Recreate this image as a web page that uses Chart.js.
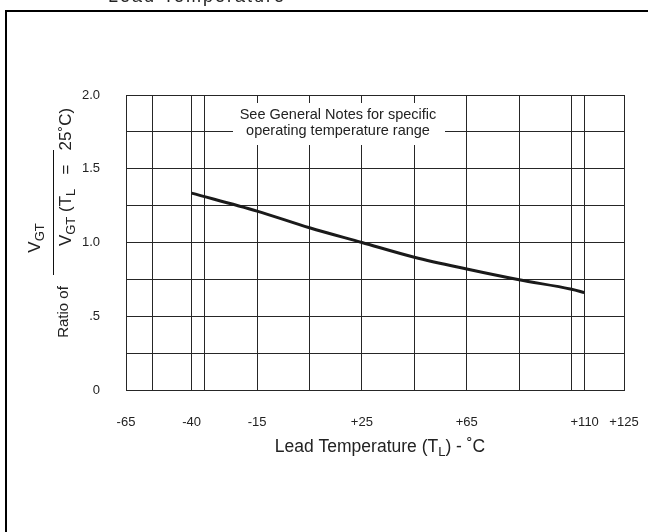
<!DOCTYPE html>
<html>
<head>
<meta charset="utf-8">
<script src="https://cdn.jsdelivr.net/npm/chart.js@4/dist/chart.umd.min.js"></script>
<style>
  html, body { margin: 0; padding: 0; background: #fff; }
  #chart { display: block; }
</style>
</head>
<body>
<canvas id="chart" width="648" height="532"></canvas>
<script>
// lead temperature (deg C) and V_GT ratio
const curveTemps = [-40, -15, 5, 25, 45, 65, 85, 105, 110];
const vgtRatio = [1.335, 1.213, 1.10, 1.0, 0.90, 0.82, 0.747, 0.683, 0.66];

// vertical grid lines and labelled temperatures
const gridTemps = [-65, -55, -40, -35, -15, 5, 25, 45, 65, 85, 105, 110, 125];
const tickTemps = [-65, -40, -15, 25, 65, 110, 125];
const tickLabels = ['-65', '-40', '-15', '+25', '+65', '+110', '+125'];

// horizontal grid lines and labelled ratios
const gridRatios = [0, 0.25, 0.5, 0.75, 1.0, 1.25, 1.5, 1.75, 2.0];
const ratioTicks = [0, 0.5, 1.0, 1.5, 2.0];
const ratioLabels = ['0', '.5', '1.0', '1.5', '2.0'];

const FONT = '"Liberation Sans", Arial, Helvetica, sans-serif';
const INK = '#222';
const GRID = '#262626';

// draws a run of text pieces (with subscripts) centred on 0,0 of the current transform
function drawRuns(ctx, runs, mainSize) {
  let total = 0;
  runs.forEach(r => {
    ctx.font = r.size + 'px ' + FONT;
    r.w = ctx.measureText(r.t).width;
    total += r.w;
  });
  let x = -total / 2;
  const base = mainSize * 0.716 / 2;
  runs.forEach(r => {
    ctx.font = r.size + 'px ' + FONT;
    ctx.fillText(r.t, x, base + (r.dy || 0));
    x += r.w;
  });
}

const decor = {
  id: 'decor',
  afterDraw(chart) {
    const ctx = chart.ctx;
    ctx.save();

    // outer frame
    ctx.fillStyle = '#000';
    ctx.fillRect(5, 10, 2, 522);
    ctx.fillRect(5, 10, 643, 2);

    // heading cut off at the top
    ctx.fillStyle = INK;
    ctx.font = '18px ' + FONT;
    ctx.textAlign = 'left';
    ctx.textBaseline = 'alphabetic';
    if ('letterSpacing' in ctx) ctx.letterSpacing = '2px';
    ctx.fillText('Lead Temperature', 108, 2);
    if ('letterSpacing' in ctx) ctx.letterSpacing = '0px';

    // note box
    ctx.fillStyle = '#fff';
    ctx.fillRect(233, 103, 212, 42);
    ctx.fillStyle = INK;
    ctx.font = '14.5px ' + FONT;
    ctx.textAlign = 'center';
    ctx.textBaseline = 'middle';
    ctx.fillText('See General Notes for specific', 338, 115);
    ctx.fillText('operating temperature range', 338, 131);

    // y axis title
    ctx.textAlign = 'left';
    ctx.textBaseline = 'alphabetic';
    ctx.save();
    ctx.translate(63, 312);
    ctx.rotate(-Math.PI / 2);
    drawRuns(ctx, [{ t: 'Ratio of', size: 15 }], 15);
    ctx.restore();

    ctx.save();
    ctx.translate(34, 238);
    ctx.rotate(-Math.PI / 2);
    drawRuns(ctx, [{ t: 'V', size: 17 }, { t: 'GT', size: 13, dy: 4 }], 17);
    ctx.restore();

    ctx.save();
    ctx.translate(65, 177);
    ctx.rotate(-Math.PI / 2);
    drawRuns(ctx, [
      { t: 'V', size: 17 }, { t: 'GT', size: 13, dy: 4 },
      { t: ' (T', size: 17 }, { t: 'L', size: 13, dy: 4 },
      { t: '   =   25\u02DAC)', size: 17 }
    ], 17);
    ctx.restore();

    ctx.strokeStyle = '#111';
    ctx.lineWidth = 1;
    ctx.beginPath();
    ctx.moveTo(53.5, 150);
    ctx.lineTo(53.5, 275);
    ctx.stroke();

    // x axis title
    ctx.save();
    ctx.translate(380, 446);
    drawRuns(ctx, [
      { t: 'Lead Temperature (T', size: 17.5 }, { t: 'L', size: 13, dy: 4 },
      { t: ') - \u02DAC', size: 17.5 }
    ], 17.5);
    ctx.restore();

    ctx.restore();
  }
};

new Chart(document.getElementById('chart'), {
  type: 'line',
  data: {
    datasets: [{
      data: curveTemps.map((t, i) => ({ x: t, y: vgtRatio[i] })),
      borderColor: '#1a1a1a',
      borderWidth: 3,
      pointRadius: 0,
      cubicInterpolationMode: 'monotone',
      fill: false
    }]
  },
  options: {
    responsive: false,
    animation: false,
    devicePixelRatio: 1,
    layout: { padding: { top: 95, right: 24, left: 0, bottom: 0 } },
    plugins: { legend: { display: false }, tooltip: { enabled: false } },
    scales: {
      x: {
        type: 'linear',
        min: -65,
        max: 125,
        afterBuildTicks: s => { s.ticks = gridTemps.map(v => ({ value: v })); },
        afterFit: s => { s.height = 142; s.paddingLeft = 0; s.paddingRight = 0; },
        grid: { color: GRID, lineWidth: 1, drawTicks: false },
        border: { color: GRID, width: 1 },
        ticks: {
          padding: 25,
          autoSkip: false,
          maxRotation: 0,
          color: INK,
          font: { family: FONT, size: 13 },
          callback: v => { const i = tickTemps.indexOf(v); return i >= 0 ? tickLabels[i] : ''; }
        }
      },
      y: {
        min: 0,
        max: 2,
        afterBuildTicks: s => { s.ticks = gridRatios.map(v => ({ value: v })); },
        afterFit: s => { s.width = 126; s.paddingTop = 0; s.paddingBottom = 0; },
        grid: { color: GRID, lineWidth: 1, drawTicks: false },
        border: { color: GRID, width: 1 },
        ticks: {
          padding: 26,
          color: INK,
          font: { family: FONT, size: 13 },
          callback: v => { const i = ratioTicks.indexOf(v); return i >= 0 ? ratioLabels[i] : ''; }
        }
      }
    }
  },
  plugins: [decor]
});
</script>
</body>
</html>
